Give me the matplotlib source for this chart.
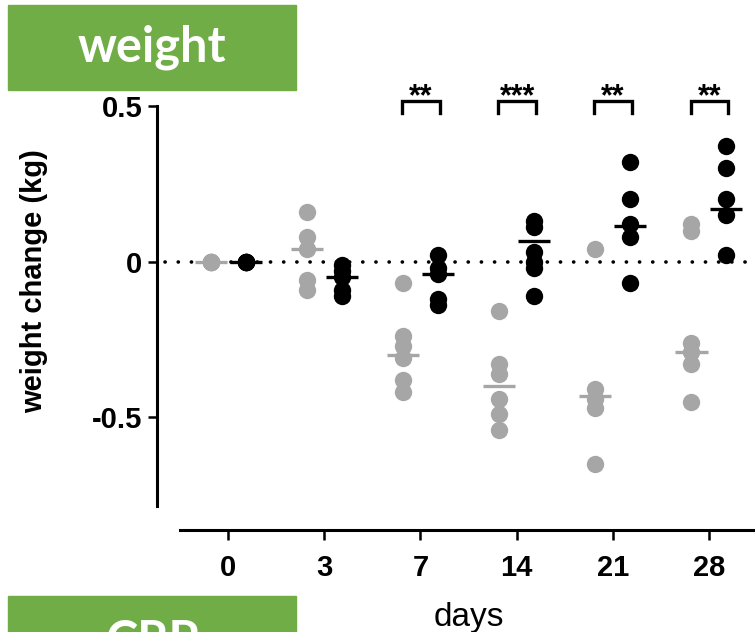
import matplotlib
matplotlib.use("Agg")
import matplotlib.pyplot as plt
from matplotlib.patches import Rectangle
import numpy as np

# data
days = ["0", "3", "7", "14", "21", "28"]

gray_vals = [
    [0, 0, 0, 0, 0],
    [0.16, 0.08, 0.04, -0.06, -0.09],
    [-0.07, -0.24, -0.27, -0.31, -0.38, -0.42],
    [-0.16, -0.33, -0.36, -0.44, -0.49, -0.54],
    [0.04, -0.41, -0.44, -0.47, -0.65],
    [0.12, 0.10, -0.26, -0.29, -0.33, -0.45],
]
gray_center = [0, 0.04, -0.30, -0.40, -0.43, -0.29]

black_vals = [
    [0, 0, 0, 0, 0],
    [-0.01, -0.03, -0.05, -0.09, -0.11],
    [0.02, -0.02, -0.04, -0.12, -0.14],
    [0.13, 0.11, 0.03, 0.0, -0.02, -0.11],
    [0.32, 0.20, 0.12, 0.08, -0.07],
    [0.37, 0.30, 0.20, 0.15, 0.02],
]
black_center = [0, -0.05, -0.04, 0.065, 0.115, 0.17]

sig = ["", "", "**", "***", "**", "**"]

GRAY = "#a6a6a6"
GREEN = "#70ad47"

plt.rcParams["font.family"] = ["Liberation Sans", "DejaVu Sans"]

fig = plt.figure(figsize=(7.55, 6.32), dpi=100)
# axes: left spine at x=157px, x axis at y=530px, 0.5 at y=106px
ax = fig.add_axes([157 / 755, 102 / 632, 598 / 755, 424 / 632])

x = np.arange(len(days))
off = 0.18
half = 0.167

# dotted zero line
ax.plot([-0.66, 5.6], [0, 0], color="black", lw=2.6,
        ls=(0, (0.05, 3.6)), dash_capstyle="round", zorder=1, clip_on=False)

for i in x:
    gx, bx = i - off, i + off
    ax.plot([gx] * len(gray_vals[i]), gray_vals[i], "o", color=GRAY,
            ms=12.5, mew=0, zorder=3)
    ax.plot([bx] * len(black_vals[i]), black_vals[i], "o", color="black",
            ms=12.5, mew=0, zorder=4)
    ax.plot([gx - half, gx + half], [gray_center[i]] * 2, color=GRAY,
            lw=2.4, zorder=3.5, solid_capstyle="butt")
    ax.plot([bx - half, bx + half], [black_center[i]] * 2, color="black",
            lw=2.4, zorder=4.5, solid_capstyle="butt")
    if sig[i]:
        x0, x1 = gx - 0.01, bx + 0.02
        ax.plot([x0, x0, x1, x1], [0.478, 0.517, 0.517, 0.478], color="black",
                lw=2.4, clip_on=False, solid_joinstyle="miter")
        ax.text((x0 + x1) / 2, 0.503, sig[i], ha="center", va="baseline",
                fontsize=22, fontweight="bold")

ax.set_xlim(-0.742, 5.481)
ax.set_ylim(-0.862, 0.5)

for s in ["top", "right"]:
    ax.spines[s].set_visible(False)
ax.spines["left"].set_bounds(-0.785, 0.5)
ax.spines["bottom"].set_bounds(-0.503, 5.481)
ax.spines["left"].set_linewidth(2.2)
ax.spines["bottom"].set_linewidth(2.2)

ax.set_yticks([0.5, 0, -0.5])
ax.set_yticklabels(["0.5", "0", "-0.5"])
ax.set_xticks(x)
ax.set_xticklabels(days)
ax.tick_params(axis="both", width=1.8, labelsize=21)
ax.tick_params(axis="x", length=7.5, pad=10)
ax.tick_params(axis="y", length=6.5, pad=4)
for lab in ax.get_xticklabels() + ax.get_yticklabels():
    lab.set_fontweight("bold")

fig.text(34 / 755, 1 - 281 / 632, "weight change (kg)", fontsize=21,
         fontweight="bold", rotation=90, ha="center", va="center")
fig.text(469 / 755, 6 / 632, "days", fontsize=24, ha="center", va="baseline")

# green title boxes
fig.patches.append(Rectangle((8 / 755, 542 / 632), 288 / 755, 85 / 632,
                             transform=fig.transFigure, color=GREEN, zorder=10))
fig.text(152 / 755, 585 / 632, "weight", family="Lato", fontweight="bold",
         fontsize=35, color="white", ha="center", va="center", zorder=11)
fig.patches.append(Rectangle((8 / 755, -0.05), 288 / 755, 36 / 632 + 0.05,
                             transform=fig.transFigure, color=GREEN, zorder=10))
fig.text(152 / 755, 13 / 632, "CRP", family="Lato", fontweight="bold",
         fontsize=35, color="white", ha="center", va="top", zorder=11)

fig.savefig("out.png", dpi=100)
